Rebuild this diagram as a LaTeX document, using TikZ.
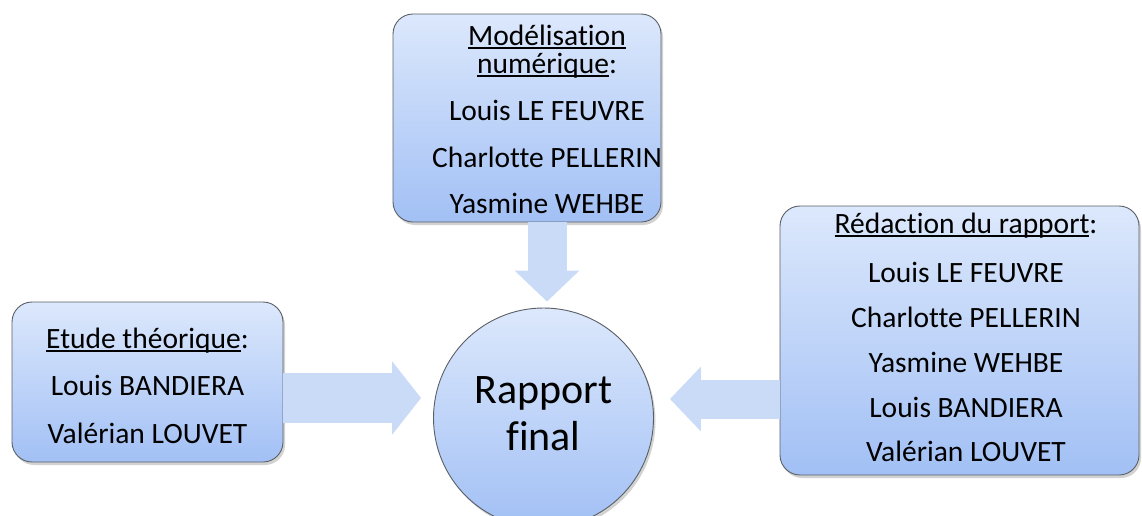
\documentclass[tikz,border=0pt]{standalone}
\usepackage{fontspec}
\setmainfont[Ligatures={NoCommon,NoRare,NoContextual}]{Carlito}
\usetikzlibrary{shadows,arrows.meta,calc}
\definecolor{boxtop}{HTML}{DCE8FC}
\definecolor{boxbot}{HTML}{A2C0F5}
\definecolor{arrcol}{HTML}{CADBF7}
\definecolor{edgecol}{HTML}{5A5F66}
\newcommand{\myul}[1]{{\setbox0\hbox{#1}\rlap{\rule[-3.5pt]{\wd0}{1.3pt}}\box0}}
\tikzset{
  box/.style={draw=edgecol, line width=0.9pt, rounded corners=20pt, top color=boxtop, bottom color=boxbot,
    drop shadow={opacity=0.35, shadow xshift=2pt, shadow yshift=-3pt}, inner sep=0pt},
  circ/.style={circle, draw=edgecol, line width=0.9pt, top color=boxtop, bottom color=boxbot,
    drop shadow={opacity=0.35, shadow xshift=2pt, shadow yshift=-3pt}, inner sep=0pt},
  txt/.style={anchor=base, inner sep=0pt, font=\fontsize{29.5}{36}\selectfont},
  bigtxt/.style={anchor=base, inner sep=0pt, font=\fontsize{42}{48}\selectfont},
  arrwide/.style={draw=arrcol, line width=50pt, -{Triangle[width=72pt,length=29pt]}},
  arrnarrow/.style={draw=arrcol, line width=39pt, -{Triangle[width=63pt,length=31pt]}},
}
\begin{document}
\begin{tikzpicture}[x=1pt,y=-1pt]
\useasboundingbox[fill=white] (0,0) rectangle (1142,515);
\node[circ, minimum size=220pt] (rap) at (543.5,418) {};
\node[box, minimum width=268pt, minimum height=208pt] (mod) at (527,118) {};
\node[box, minimum width=271pt, minimum height=160pt] (etu) at (147.5,382) {};
\node[box, minimum width=359pt, minimum height=269pt] (red) at (959.5,340.5) {};
\draw[arrnarrow, shorten >=6pt] ([xshift=20pt]mod.south) -- ([xshift=20pt]mod.south |- rap.north);
\draw[arrwide, shorten >=12pt] ([yshift=-16pt]etu.east) -- ([yshift=-16pt]etu.east -| rap.west);
\draw[arrnarrow, shorten >=16pt] ([yshift=-58.5pt]red.west) -- ([yshift=-58.5pt]red.west -| rap.east);
% texts
\node[txt] (m1) at (547,45) {\myul{Modélisation}};
\node[txt] (m2) at (547,73) {\myul{numérique}:};
\node[txt] (m3) at (547,120) {Louis LE FEUVRE};
\node[txt] (m4) at (547,167) {Charlotte PELLERIN};
\node[txt] (m5) at (547,213) {Yasmine WEHBE};
\node[txt] (e1) at (147.5,348) {\myul{Etude théorique}:};
\node[txt] (e2) at (147.5,395) {Louis BANDIERA};
\node[txt] (e3) at (147.5,443) {Valérian LOUVET};
\node[txt] (r1) at (966,233) {\myul{Rédaction du rapport}:};
\node[txt] (r2) at (966,282) {Louis LE FEUVRE};
\node[txt] (r3) at (966,327) {Charlotte PELLERIN};
\node[txt] (r4) at (966,372) {Yasmine WEHBE};
\node[txt] (r5) at (966,417) {Louis BANDIERA};
\node[txt] (r6) at (966,461) {Valérian LOUVET};
\node[bigtxt] (c1) at (543.5,403) {Rapport};
\node[bigtxt] (c2) at (543.5,450) {final};
\end{tikzpicture}
\end{document}
